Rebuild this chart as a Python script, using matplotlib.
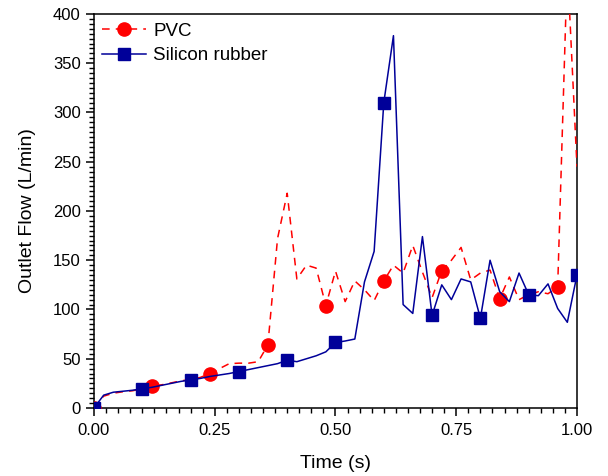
import matplotlib
matplotlib.use("Agg")
import matplotlib.pyplot as plt
from matplotlib.ticker import MultipleLocator, FormatStrFormatter

plt.rcParams['font.family'] = ['Liberation Sans', 'DejaVu Sans']

time_s = [0.00, 0.02, 0.04, 0.06, 0.08, 0.10, 0.12, 0.14, 0.16, 0.18,
          0.20, 0.22, 0.24, 0.26, 0.28, 0.30, 0.32, 0.34, 0.36, 0.38,
          0.40, 0.42, 0.44, 0.46, 0.48, 0.50, 0.52, 0.54, 0.56, 0.58,
          0.60, 0.62, 0.64, 0.66, 0.68, 0.70, 0.72, 0.74, 0.76, 0.78,
          0.80, 0.82, 0.84, 0.86, 0.88, 0.90, 0.92, 0.94, 0.96, 0.98, 1.00]

pvc_flow = [0, 12, 15, 16.5, 17.5, 19.5, 22.3, 23.5, 25.5, 27.5,
            29, 31, 35, 40, 45, 45.5, 45.5, 47, 64, 172,
            218, 131, 145, 142, 104, 139, 108, 129, 120, 109,
            129, 145, 137, 165, 138, 112, 139.5, 150, 163, 130,
            137, 140, 111, 133, 110, 115, 118, 116, 123, 450, 245]

silicon_flow = [0, 13, 16, 17, 18, 19.5, 21, 23, 25, 27,
                28.5, 30, 32, 33.5, 35, 37, 39, 41, 43, 45,
                48.5, 47, 50, 53, 57, 66.5, 68, 70, 128, 159,
                310, 378, 105, 96, 174, 94, 125, 110, 131, 128,
                91, 150, 118, 108, 137, 115, 114, 126, 101, 87, 135]

series_labels = ["PVC", "Silicon rubber"]
x_label = "Time (s)"
y_label = "Outlet Flow (L/min)"

fig = plt.figure(figsize=(6.08, 4.76), dpi=100)
ax = fig.add_axes([0.1546, 0.1429, 0.7944, 0.8277])

red = '#FF0000'
blue = '#000099'

ax.plot(time_s, pvc_flow, color=red, lw=1.1, linestyle=(0, (5, 4)),
        marker='o', markersize=9.5, markevery=6, markerfacecolor=red,
        markeredgecolor=red, label=series_labels[0], zorder=3)
ax.plot(time_s, silicon_flow, color=blue, lw=1.1, linestyle='-',
        marker='s', markersize=8, markevery=5, markerfacecolor=blue,
        markeredgecolor=blue, label=series_labels[1], zorder=4)

ax.set_xlim(0, 1.0)
ax.set_ylim(0, 400)
ax.xaxis.set_major_locator(MultipleLocator(0.25))
ax.xaxis.set_minor_locator(MultipleLocator(0.025))
ax.xaxis.set_major_formatter(FormatStrFormatter('%.2f'))
ax.yaxis.set_major_locator(MultipleLocator(50))
ax.yaxis.set_minor_locator(MultipleLocator(5))

ax.tick_params(axis='both', which='major', direction='out', length=6, width=1.1,
               labelsize=12, top=False, right=False)
ax.tick_params(axis='x', which='major', pad=5)
ax.tick_params(axis='both', which='minor', direction='out', length=3.5, width=1.0,
               top=False, right=False)
for sp in ax.spines.values():
    sp.set_linewidth(1.1)

ax.set_xlabel(x_label, fontsize=14, labelpad=12)
ax.set_ylabel(y_label, fontsize=14, labelpad=12)

ax.legend(loc='upper left', frameon=False, fontsize=13.5, handlelength=2.3,
          handletextpad=0.4, borderaxespad=0.0, borderpad=0.45, labelspacing=0.4)

fig.savefig('out.png', dpi=100)
